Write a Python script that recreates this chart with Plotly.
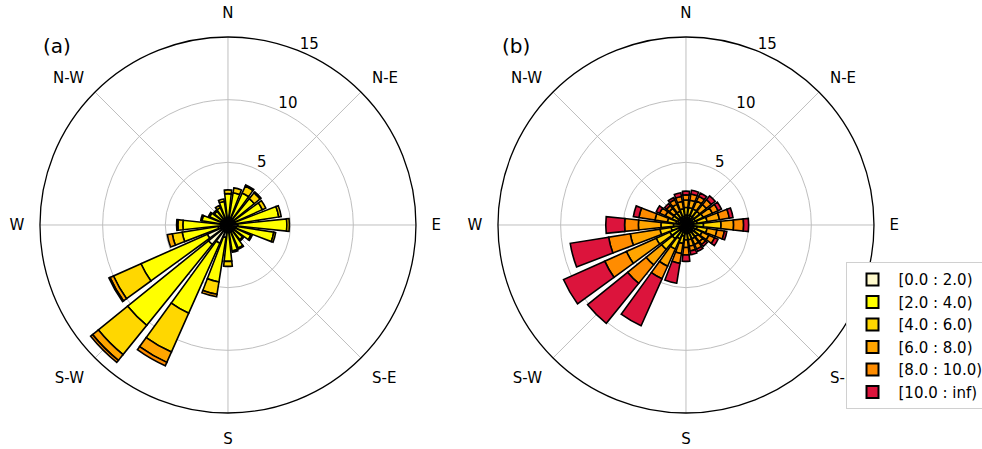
import plotly.graph_objects as go

directions = [0, 15, 30, 45, 60, 75, 90, 105, 120, 135, 150, 165,
              180, 195, 210, 225, 240, 255, 270, 285, 300, 315, 330, 345]

bin_labels = ["[0.0 : 2.0)", "[2.0 : 4.0)", "[4.0 : 6.0)",
              "[6.0 : 8.0)", "[8.0 : 10.0)", "[10.0 : inf)"]
bin_colors = ["#fffacd", "#ffff00", "#ffd700", "#ffa500", "#ff8c00", "#dc143c"]

# Panel (a): frequency (%) per direction for each speed bin
a_bin0 = [0.4, 0.4, 0.4, 0.4, 0.4, 0.6, 0.8, 0.7, 0.6, 0.5, 0.6, 0.6,
          0.6, 1.0, 1.6, 2.0, 1.8, 0.8, 0.6, 0.5, 0.4, 0.3, 0.3, 0.3]
a_bin1 = [2.1, 2.2, 2.4, 2.3, 2.6, 3.5, 3.9, 3.0, 1.4, 1.0, 1.4, 1.5,
          2.3, 3.6, 6.1, 8.3, 5.8, 2.9, 3.0, 1.6, 1.2, 1.1, 1.2, 1.6]
a_bin2 = [0.3, 0.4, 0.6, 0.6, 0.3, 0.2, 0.2, 0.15, 0.1, 0.1, 0.1, 0.1,
          0.4, 1.0, 3.4, 3.0, 2.4, 0.8, 0.4, 0.1, 0.1, 0.1, 0.2, 0.2]
a_bin3 = [0.0, 0.0, 0.1, 0.1, 0.0, 0.0, 0.0, 0.0, 0.0, 0.0, 0.0, 0.0,
          0.0, 0.2, 0.9, 0.6, 0.3, 0.4, 0.1, 0.0, 0.0, 0.0, 0.0, 0.0]
a_bin4 = [0.0, 0.0, 0.0, 0.0, 0.0, 0.0, 0.0, 0.0, 0.0, 0.0, 0.0, 0.0,
          0.0, 0.0, 0.3, 0.2, 0.1, 0.0, 0.0, 0.0, 0.0, 0.0, 0.0, 0.0]
a_bin5 = [0.0] * 24

# Panel (b)
b_bin0 = [0.3, 0.3, 0.3, 0.3, 0.3, 0.3, 0.4, 0.3, 0.3, 0.3, 0.3, 0.3,
          0.3, 0.4, 0.5, 0.6, 0.6, 0.5, 0.4, 0.3, 0.3, 0.3, 0.3, 0.3]
b_bin1 = [0.5, 0.5, 0.5, 0.5, 0.5, 0.6, 1.0, 0.6, 0.5, 0.4, 0.4, 0.4,
          0.4, 0.5, 0.7, 0.8, 0.8, 0.7, 0.6, 0.5, 0.4, 0.4, 0.4, 0.4]
b_bin2 = [0.6, 0.6, 0.6, 0.6, 0.7, 0.8, 1.4, 0.8, 0.6, 0.5, 0.5, 0.5,
          0.5, 0.6, 0.9, 1.1, 1.2, 0.9, 1.0, 0.7, 0.5, 0.5, 0.5, 0.6]
b_bin3 = [0.6, 0.6, 0.7, 0.7, 0.8, 1.0, 1.0, 0.8, 0.6, 0.5, 0.5, 0.5,
          0.6, 0.8, 1.5, 1.6, 2.6, 2.4, 1.8, 1.0, 0.6, 0.5, 0.6, 0.6]
b_bin4 = [0.4, 0.5, 0.4, 0.5, 0.5, 0.8, 0.8, 0.6, 0.5, 0.3, 0.4, 0.4,
          0.6, 0.8, 1.1, 1.9, 1.9, 1.75, 1.1, 1.3, 0.5, 0.3, 0.4, 0.4]
b_bin5 = [0.3, 0.3, 0.3, 0.4, 0.3, 0.3, 0.4, 0.2, 0.3, 0.2, 0.2, 0.3,
          0.5, 1.6, 4.1, 4.1, 3.6, 3.1, 1.5, 0.45, 0.3, 0.2, 0.2, 0.3]

panel_a = [a_bin0, a_bin1, a_bin2, a_bin3, a_bin4, a_bin5]
panel_b = [b_bin0, b_bin1, b_bin2, b_bin3, b_bin4, b_bin5]

compass_vals = [0, 45, 90, 135, 180, 225, 270, 315]
compass_text = ["N", "N-E", "E", "S-E", "S", "S-W", "W", "N-W"]
r_ticks = [5, 10, 15]

fig = go.Figure()
for k in range(6):
    fig.add_trace(go.Barpolar(
        r=panel_a[k], theta=directions, width=12, name=bin_labels[k],
        marker=dict(color=bin_colors[k], line=dict(color="black", width=1.6)),
        showlegend=False, subplot="polar"))
for k in range(6):
    fig.add_trace(go.Barpolar(
        r=panel_b[k], theta=directions, width=12, name=bin_labels[k],
        marker=dict(color=bin_colors[k], line=dict(color="black", width=1.6)),
        showlegend=True, subplot="polar2"))

def polar_layout(xdom):
    return dict(
        domain=dict(x=xdom, y=[0.0802, 0.9176]),
        bgcolor="white",
        barmode="stack",
        angularaxis=dict(
            direction="clockwise", rotation=90,
            tickmode="array", tickvals=compass_vals, ticktext=compass_text,
            showgrid=True, gridcolor="#bfbfbf", gridwidth=1,
            showline=True, linecolor="black", linewidth=1.3,
            ticks="outside", ticklen=12, tickcolor="rgba(0,0,0,0)",
            tickfont=dict(family="DejaVu Sans", size=15, color="black")),
        radialaxis=dict(
            range=[0, 15], angle=70, tickangle=70, side="clockwise",
            tickmode="array", tickvals=r_ticks,
            ticktext=[f"{v}<br>\u00a0" for v in r_ticks],
            showgrid=True, gridcolor="#bfbfbf", gridwidth=1,
            showline=False, ticks="",
            tickfont=dict(family="DejaVu Sans", size=15, color="black")),
    )

fig.update_layout(
    width=982, height=449,
    margin=dict(l=0, r=0, t=0, b=0, autoexpand=False),
    paper_bgcolor="white",
    polar=polar_layout([0.0407, 0.4236]),
    polar2=polar_layout([0.5071, 0.8900]),
    legend=dict(x=0.861, y=0.416, xanchor="left", yanchor="top",
                bgcolor="white", bordercolor="#d0d0d0", borderwidth=1,
                font=dict(family="DejaVu Sans", size=15, color="black"),
                itemsizing="constant", itemwidth=42, tracegroupgap=0),
    annotations=[
        dict(text="(a)", x=57 / 982, y=1 - 46 / 449, xref="paper", yref="paper",
             xanchor="center", yanchor="middle",
             showarrow=False, font=dict(family="DejaVu Sans", size=20, color="black")),
        dict(text="(b)", x=516 / 982, y=1 - 46 / 449, xref="paper", yref="paper",
             xanchor="center", yanchor="middle",
             showarrow=False, font=dict(family="DejaVu Sans", size=20, color="black")),
    ],
)

fig.write_html("out.html", config={"displayModeBar": False},
               post_script="document.body.style.margin='0px';document.body.style.overflow='hidden';")
